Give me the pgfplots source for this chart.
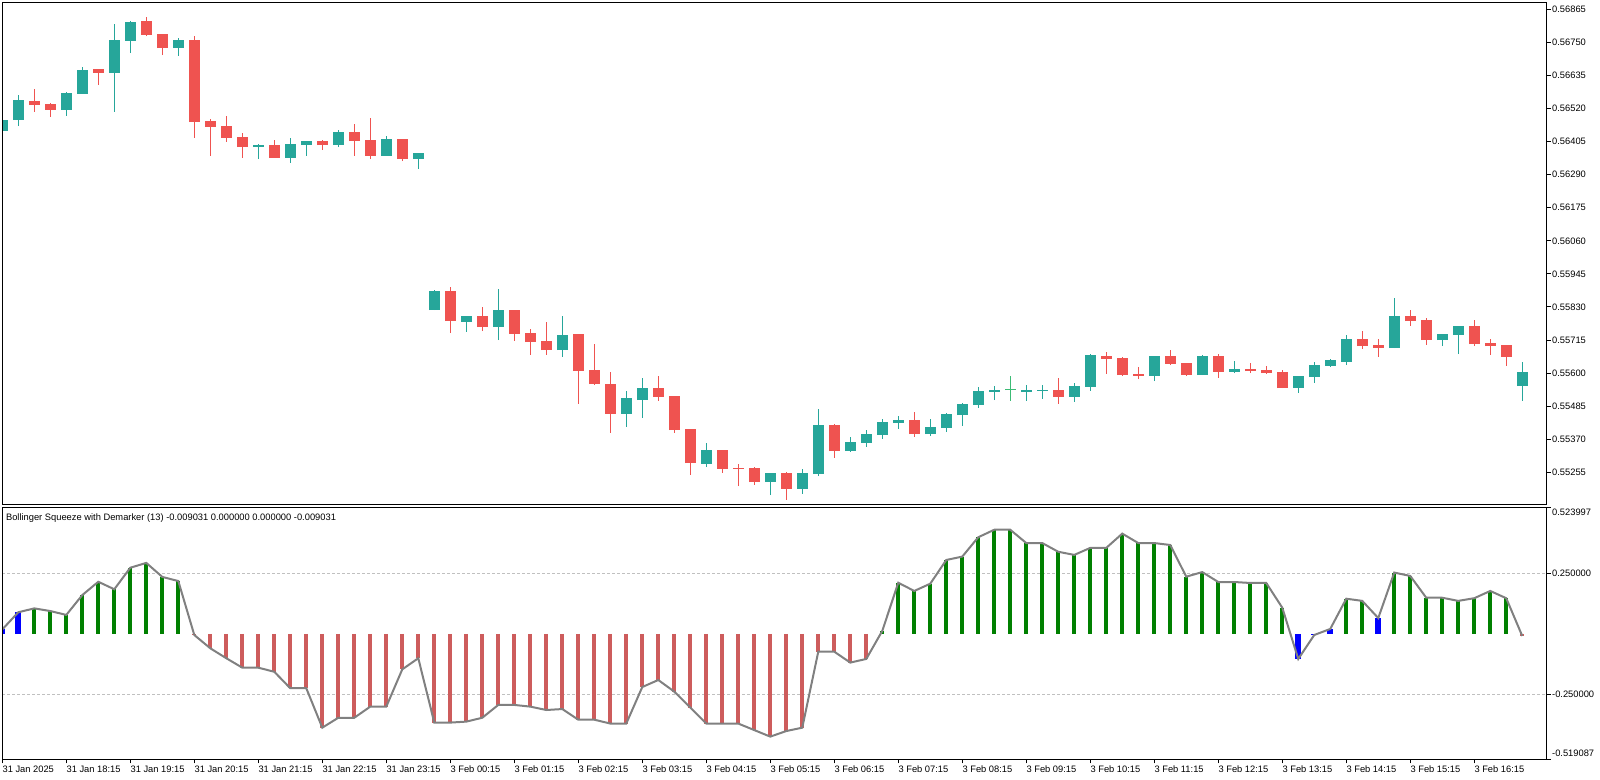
\documentclass[border=0pt]{standalone}
\usepackage{fontspec}
\setmainfont{Liberation Sans}
\usepackage{pgfplots}
\pgfplotsset{compat=1.18}
\usepackage{pgfplotstable}
\definecolor{cup}{HTML}{26A69A}
\definecolor{cdn}{HTML}{EF5350}
\definecolor{cdoji}{HTML}{3CBB75}
\definecolor{hgreen}{HTML}{008000}
\definecolor{hred}{HTML}{CD5C5C}
\definecolor{hblue}{HTML}{0000FF}
\definecolor{lgray}{HTML}{C0C0C0}
\definecolor{lgr}{HTML}{808080}

% green (rising) candles
\pgfplotstableread{
i o h l c
0 0.56442 0.56480 0.56442 0.56480
1 0.56480 0.56567 0.56459 0.56550
4 0.56515 0.56577 0.56494 0.56574
5 0.56571 0.56664 0.56571 0.56654
7 0.56644 0.56814 0.56508 0.56758
8 0.56755 0.56824 0.56713 0.56821
11 0.56730 0.56765 0.56703 0.56758
16 0.56386 0.56397 0.56344 0.56393
18 0.56348 0.56418 0.56331 0.56397
19 0.56393 0.56407 0.56355 0.56407
21 0.56393 0.56445 0.56386 0.56438
24 0.56355 0.56424 0.56355 0.56414
26 0.56344 0.56365 0.56310 0.56365
27 0.55819 0.55889 0.55819 0.55885
29 0.55778 0.55799 0.55743 0.55799
31 0.55760 0.55892 0.55715 0.55819
35 0.55680 0.55799 0.55656 0.55732
39 0.55458 0.55538 0.55413 0.55513
40 0.55506 0.55583 0.55444 0.55548
44 0.55284 0.55357 0.55273 0.55333
48 0.55221 0.55253 0.55176 0.55253
50 0.55197 0.55267 0.55180 0.55253
51 0.55249 0.55475 0.55242 0.55420
53 0.55329 0.55378 0.55326 0.55360
54 0.55357 0.55402 0.55343 0.55388
55 0.55385 0.55440 0.55371 0.55430
56 0.55426 0.55451 0.55406 0.55437
58 0.55388 0.55440 0.55381 0.55413
59 0.55409 0.55461 0.55395 0.55458
60 0.55454 0.55496 0.55416 0.55493
61 0.55489 0.55552 0.55479 0.55538
62 0.55534 0.55555 0.55506 0.55541
64 0.55534 0.55559 0.55503 0.55541
65 0.55538 0.55559 0.55510 0.55541
67 0.55517 0.55566 0.55500 0.55555
68 0.55552 0.55666 0.55538 0.55663
72 0.55590 0.55659 0.55572 0.55659
75 0.55593 0.55663 0.55593 0.55659
77 0.55604 0.55642 0.55600 0.55614
81 0.55548 0.55590 0.55531 0.55590
82 0.55586 0.55639 0.55566 0.55628
83 0.55625 0.55649 0.55621 0.55646
84 0.55639 0.55732 0.55628 0.55719
87 0.55687 0.55861 0.55687 0.55799
90 0.55715 0.55736 0.55694 0.55736
91 0.55732 0.55764 0.55666 0.55764
95 0.55555 0.55639 0.55503 0.55604
}\upc

% doji candle (open = close)
\pgfplotstableread{
i o h l c
63 0.55541 0.55590 0.55503 0.55544
}\djc

% red (falling) candles
\pgfplotstableread{
i o h l c
2 0.56546 0.56588 0.56508 0.56532
3 0.56536 0.56539 0.56491 0.56515
6 0.56657 0.56657 0.56602 0.56644
9 0.56824 0.56838 0.56772 0.56776
10 0.56779 0.56779 0.56706 0.56730
12 0.56758 0.56772 0.56418 0.56473
13 0.56477 0.56484 0.56355 0.56456
14 0.56459 0.56494 0.56404 0.56418
15 0.56421 0.56435 0.56348 0.56386
17 0.56393 0.56411 0.56348 0.56348
20 0.56407 0.56411 0.56376 0.56393
22 0.56438 0.56466 0.56355 0.56407
23 0.56411 0.56487 0.56344 0.56355
25 0.56414 0.56414 0.56337 0.56344
28 0.55885 0.55899 0.55739 0.55781
30 0.55799 0.55830 0.55746 0.55760
32 0.55819 0.55819 0.55712 0.55736
33 0.55739 0.55753 0.55663 0.55708
34 0.55712 0.55778 0.55663 0.55680
36 0.55736 0.55736 0.55493 0.55607
37 0.55611 0.55701 0.55559 0.55562
38 0.55562 0.55604 0.55392 0.55458
41 0.55548 0.55590 0.55503 0.55517
42 0.55520 0.55520 0.55392 0.55402
43 0.55406 0.55406 0.55246 0.55287
45 0.55333 0.55333 0.55253 0.55267
46 0.55270 0.55284 0.55207 0.55267
47 0.55270 0.55273 0.55211 0.55221
49 0.55253 0.55256 0.55159 0.55197
52 0.55420 0.55423 0.55305 0.55329
57 0.55437 0.55465 0.55378 0.55388
66 0.55541 0.55583 0.55493 0.55517
69 0.55659 0.55673 0.55597 0.55649
70 0.55652 0.55656 0.55590 0.55593
71 0.55597 0.55621 0.55579 0.55590
73 0.55659 0.55680 0.55628 0.55632
74 0.55635 0.55635 0.55590 0.55593
76 0.55659 0.55666 0.55583 0.55604
78 0.55614 0.55635 0.55600 0.55607
79 0.55611 0.55625 0.55597 0.55600
80 0.55604 0.55611 0.55548 0.55548
85 0.55719 0.55746 0.55684 0.55694
86 0.55698 0.55719 0.55656 0.55687
88 0.55799 0.55819 0.55764 0.55781
89 0.55785 0.55792 0.55698 0.55715
92 0.55764 0.55785 0.55694 0.55701
93 0.55705 0.55719 0.55663 0.55694
94 0.55698 0.55698 0.55625 0.55656
}\dnc

% indicator line (all bars)
\pgfplotstableread{
i v
0 0.018
1 0.089
2 0.105
3 0.094
4 0.078
5 0.160
6 0.215
7 0.184
8 0.273
9 0.293
10 0.235
11 0.218
12 -0.005
13 -0.060
14 -0.101
15 -0.140
16 -0.140
17 -0.157
18 -0.225
19 -0.225
20 -0.388
21 -0.347
22 -0.347
23 -0.301
24 -0.301
25 -0.147
26 -0.101
27 -0.367
28 -0.367
29 -0.363
30 -0.347
31 -0.294
32 -0.294
33 -0.301
34 -0.315
35 -0.311
36 -0.355
37 -0.355
38 -0.371
39 -0.371
40 -0.220
41 -0.191
42 -0.239
43 -0.305
44 -0.371
45 -0.371
46 -0.371
47 -0.398
48 -0.425
49 -0.402
50 -0.388
51 -0.074
52 -0.074
53 -0.119
54 -0.104
55 0.012
56 0.211
57 0.177
58 0.207
59 0.305
60 0.319
61 0.399
62 0.430
63 0.430
64 0.375
65 0.375
66 0.339
67 0.326
68 0.355
69 0.355
70 0.414
71 0.375
72 0.375
73 0.367
74 0.236
75 0.255
76 0.214
77 0.214
78 0.210
79 0.210
80 0.108
81 -0.104
82 -0.005
83 0.020
84 0.145
85 0.136
86 0.065
87 0.253
88 0.239
89 0.149
90 0.149
91 0.136
92 0.147
93 0.177
94 0.147
95 -0.009
}\ind

\pgfplotstableread{
i v
2 0.105
3 0.094
4 0.078
5 0.160
6 0.215
7 0.184
8 0.273
9 0.293
10 0.235
11 0.218
55 0.012
56 0.211
57 0.177
58 0.207
59 0.305
60 0.319
61 0.399
62 0.430
63 0.430
64 0.375
65 0.375
66 0.339
67 0.326
68 0.355
69 0.355
70 0.414
71 0.375
72 0.375
73 0.367
74 0.236
75 0.255
76 0.214
77 0.214
78 0.210
79 0.210
80 0.108
84 0.145
85 0.136
87 0.253
88 0.239
89 0.149
90 0.149
91 0.136
92 0.147
93 0.177
94 0.147
}\hgr

\pgfplotstableread{
i v
0 0.018
1 0.089
81 -0.104
82 -0.005
83 0.020
86 0.065
}\hbl

\pgfplotstableread{
i v
12 -0.005
13 -0.060
14 -0.101
15 -0.140
16 -0.140
17 -0.157
18 -0.225
19 -0.225
20 -0.388
21 -0.347
22 -0.347
23 -0.301
24 -0.301
25 -0.147
26 -0.101
27 -0.367
28 -0.367
29 -0.363
30 -0.347
31 -0.294
32 -0.294
33 -0.301
34 -0.315
35 -0.311
36 -0.355
37 -0.355
38 -0.371
39 -0.371
40 -0.220
41 -0.191
42 -0.239
43 -0.305
44 -0.371
45 -0.371
46 -0.371
47 -0.398
48 -0.425
49 -0.402
50 -0.388
51 -0.074
52 -0.074
53 -0.119
54 -0.104
95 -0.009
}\hrd

\pgfplotsset{
  mtframe/.style={
    scale only axis,
    width=1158.5pt,
    xmin=0, xmax=96.54,
    clip mode=individual,
    axis line style={black, line width=0.75pt},
    tick style={black, line width=0.75pt},
    major tick length=3pt,
    tick align=outside,
    ytick pos=right,
    yticklabel pos=right,
    tick label style={font=\fontsize{7pt}{8pt}\selectfont, black},
    yticklabel style={anchor=west, inner sep=0pt, xshift=0.75pt},
    axis on top,
  },
}

\begin{document}
\begin{tikzpicture}
\path[use as bounding box] (0,0) rectangle (1200pt,-585pt);

% ---------------- price panel ----------------
\begin{axis}[mtframe,
  at={(1.725pt,-1.725pt)}, anchor=north west,
  height=377pt,
  ymin=0.551414, ymax=0.568894,
  xtick=\empty,
  ytick={0.55255,0.55370,0.55485,0.55600,0.55715,0.55830,0.55945,0.56060,0.56175,0.56290,0.56405,0.56520,0.56635,0.56750,0.56865},
  yticklabels={0.55255,0.55370,0.55485,0.55600,0.55715,0.55830,0.55945,0.56060,0.56175,0.56290,0.56405,0.56520,0.56635,0.56750,0.56865},
]
% wicks
\addplot[draw=none, mark=none,
  error bars/.cd, y dir=plus, y explicit, error mark=none,
  error bar style={draw=cup, line width=1pt}]
  table[x=i, y=l, y error plus expr=\thisrow{h}-\thisrow{l}] \upc;
\addplot[draw=none, mark=none,
  error bars/.cd, y dir=plus, y explicit, error mark=none,
  error bar style={draw=cdn, line width=1pt}]
  table[x=i, y=l, y error plus expr=\thisrow{h}-\thisrow{l}] \dnc;
\addplot[draw=none, mark=none,
  error bars/.cd, y dir=plus, y explicit, error mark=none,
  error bar style={draw=cdoji, line width=0.9pt}]
  table[x=i, y=l, y error plus expr=\thisrow{h}-\thisrow{l}] \djc;
% bodies
\addplot[draw=none, mark=none,
  error bars/.cd, y dir=plus, y explicit, error mark=none,
  error bar style={draw=cup, line width=8.25pt}]
  table[x=i, y=o, y error plus expr=\thisrow{c}-\thisrow{o}] \upc;
\addplot[draw=none, mark=none,
  error bars/.cd, y dir=plus, y explicit, error mark=none,
  error bar style={draw=cdn, line width=8.25pt}]
  table[x=i, y=c, y error plus expr=\thisrow{o}-\thisrow{c}] \dnc;
\addplot[draw=none, mark=none,
  error bars/.cd, y dir=plus, y explicit, error mark=none,
  error bar style={draw=cdoji, line width=8.25pt}]
  table[x=i, y=o, y error plus expr=\thisrow{c}-\thisrow{o}] \djc;
\end{axis}

% ---------------- indicator panel ----------------
\begin{axis}[mtframe,
  at={(1.725pt,-380.25pt)}, anchor=north west,
  height=189.3pt,
  ymin=-0.519087, ymax=0.523997,
  xtick={0,4,...,92},
  xticklabels={31 Jan 2025,31 Jan 18:15,31 Jan 19:15,31 Jan 20:15,31 Jan 21:15,31 Jan 22:15,31 Jan 23:15,3 Feb 00:15,3 Feb 01:15,3 Feb 02:15,3 Feb 03:15,3 Feb 04:15,3 Feb 05:15,3 Feb 06:15,3 Feb 07:15,3 Feb 08:15,3 Feb 09:15,3 Feb 10:15,3 Feb 11:15,3 Feb 12:15,3 Feb 13:15,3 Feb 14:15,3 Feb 15:15,3 Feb 16:15},
  xtick pos=left,
  xticklabel style={anchor=north west, inner sep=0pt, yshift=-1.5pt},
  ytick={-0.519087,-0.25,0.25,0.523997},
  yticklabels={,-0.250000,0.250000,},
]
\addplot[lgray, line width=0.75pt, dash pattern=on 2.25pt off 1.5pt] coordinates {(0,0.25) (96.54,0.25)};
\addplot[lgray, line width=0.75pt, dash pattern=on 2.25pt off 1.5pt] coordinates {(0,-0.25) (96.54,-0.25)};
\addplot[ycomb, hgreen, line width=3pt, mark=none] table[x=i, y=v] \hgr;
\addplot[ycomb, hred, line width=3pt, mark=none] table[x=i, y=v] \hrd;
\addplot[ycomb, hblue, line width=4.5pt, mark=none] table[x=i, y=v] \hbl;
\addplot[lgr, line width=1.5pt, mark=none] table[x=i, y=v] \ind;
\node[anchor=base west, inner sep=0pt, font=\fontsize{7pt}{8pt}\selectfont]
  at (rel axis cs:0,1) [xshift=2.6pt, yshift=-9.75pt]
  {Bollinger Squeeze with Demarker (13) -0.009031 0.000000 0.000000 -0.009031};
\node[anchor=west, inner sep=0pt, font=\fontsize{7pt}{8pt}\selectfont]
  at (rel axis cs:1,1) [xshift=3.75pt, yshift=-4pt] {0.523997};
\node[anchor=west, inner sep=0pt, font=\fontsize{7pt}{8pt}\selectfont]
  at (rel axis cs:1,0) [xshift=3.75pt, yshift=4.6pt] {-0.519087};
\end{axis}
\end{tikzpicture}
\end{document}
